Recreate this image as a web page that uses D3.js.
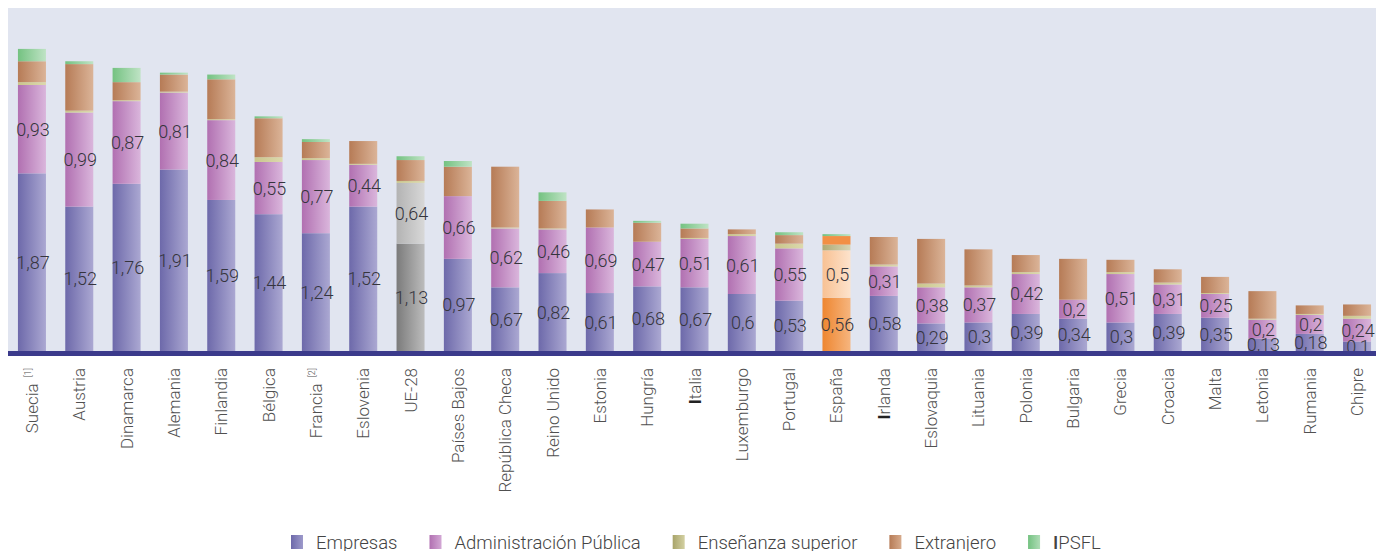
<!DOCTYPE html>
<html>
<head>
<meta charset="utf-8">
<script src="https://cdn.jsdelivr.net/npm/d3@7"></script>
<style>
  body { margin: 0; background: #fff; }
  svg { display: block; font-family: Roboto, "DejaVu Sans", sans-serif; }
</style>
</head>
<body>
<div id="chart"></div>
<script>
// Countries (x axis), in order
const countries = ["Suecia", "Austria", "Dinamarca", "Alemania", "Finlandia", "Bélgica", "Francia",
  "Eslovenia", "UE-28", "Países Bajos", "República Checa", "Reino Unido", "Estonia", "Hungría",
  "Italia", "Luxemburgo", "Portugal", "España", "Irlanda", "Eslovaquia", "Lituania", "Polonia",
  "Bulgaria", "Grecia", "Croacia", "Malta", "Letonia", "Rumania", "Chipre"];
const notes = { "Suecia": "[1]", "Francia": "[2]" };

// Series values (% of GDP)
const empresas   = [1.87, 1.52, 1.76, 1.91, 1.59, 1.44, 1.24, 1.52, 1.13, 0.97, 0.67, 0.82, 0.61, 0.68, 0.67, 0.6, 0.53, 0.56, 0.58, 0.29, 0.3, 0.39, 0.34, 0.3, 0.39, 0.35, 0.13, 0.18, 0.1];
const adminPub   = [0.93, 0.99, 0.87, 0.81, 0.84, 0.55, 0.77, 0.44, 0.64, 0.66, 0.62, 0.46, 0.69, 0.47, 0.51, 0.61, 0.55, 0.5, 0.31, 0.38, 0.37, 0.42, 0.2, 0.51, 0.31, 0.25, 0.2, 0.2, 0.24];
const ensenanza  = [0.03, 0.02, 0.01, 0.01, 0.01, 0.05, 0.02, 0.01, 0.02, 0.0, 0.01, 0.01, 0.0, 0.0, 0.01, 0.02, 0.05, 0.06, 0.02, 0.04, 0.02, 0.02, 0.0, 0.02, 0.02, 0.01, 0.01, 0.01, 0.03];
const extranjero = [0.22, 0.49, 0.19, 0.18, 0.42, 0.41, 0.17, 0.24, 0.22, 0.31, 0.64, 0.29, 0.19, 0.2, 0.1, 0.05, 0.09, 0.09, 0.29, 0.47, 0.38, 0.18, 0.43, 0.13, 0.14, 0.17, 0.29, 0.09, 0.12];
const ipsfl      = [0.13, 0.03, 0.15, 0.02, 0.05, 0.02, 0.03, 0.0, 0.04, 0.06, 0.0, 0.09, 0.0, 0.02, 0.05, 0.0, 0.03, 0.02, 0.0, 0.0, 0.0, 0.0, 0.0, 0.0, 0.0, 0.0, 0.0, 0.0, 0.0];

const seriesKeys = ["empresas", "adminPub", "ensenanza", "extranjero", "ipsfl"];
const seriesNames = ["Empresas", "Administración Pública", "Enseñanza superior", "Extranjero", "IPSFL"];
const seriesData = { empresas, adminPub, ensenanza, extranjero, ipsfl };
const labelled = ["empresas", "adminPub"];

// Gradient colours [left, right]; UE-28 in greys, España in oranges
const palette = {
  empresas:   ["#6d69aa", "#aba8d2"],
  adminPub:   ["#b170b1", "#dab6dc"],
  ensenanza:  ["#c9c58c", "#dcd9ad"],
  extranjero: ["#b67b56", "#dbb498"],
  ipsfl:      ["#74c281", "#bfe3c5"]
};
const specialPalette = {
  "UE-28": { empresas: ["#7b7b7b", "#bcbcbc"], adminPub: ["#b3b3b3", "#d8d8d8"] },
  "España": {
    empresas: ["#ee8630", "#f6b57e"], adminPub: ["#f8c193", "#fde3cc"],
    ensenanza: ["#b0aa74", "#d9d4b4"], extranjero: ["#f28f45", "#f28f45"]
  }
};
const legendColors = {
  empresas: ["#6d69aa", "#9d9acb"], adminPub: ["#b170b1", "#d3a8d5"],
  ensenanza: ["#a8a46a", "#d3d0a2"], extranjero: ["#b67b56", "#d7ab8c"], ipsfl: ["#74c281", "#afdcb6"]
};

const width = 1376, height = 551;
const plot = { left: 8, top: 8, right: 1376, bottom: 351 };

const svg = d3.select("#chart").append("svg")
  .attr("width", width).attr("height", height);

// Gradients
const defs = svg.append("defs");
function gradient(id, [c0, c1]) {
  const g = defs.append("linearGradient").attr("id", id)
    .attr("x1", "0%").attr("x2", "100%").attr("y1", "0%").attr("y2", "0%");
  g.append("stop").attr("offset", "0%").attr("stop-color", c0);
  g.append("stop").attr("offset", "100%").attr("stop-color", c1);
  return `url(#${id})`;
}
const fills = {};
seriesKeys.forEach(k => { fills[k] = gradient("g-" + k, palette[k]); });
const specialFills = {};
Object.entries(specialPalette).forEach(([c, p], i) => {
  specialFills[c] = {};
  Object.entries(p).forEach(([k, cols]) => { specialFills[c][k] = gradient(`s${i}-${k}`, cols); });
});
const legendFills = {};
seriesKeys.forEach(k => { legendFills[k] = gradient("l-" + k, legendColors[k]); });

// Plot background
svg.append("rect")
  .attr("x", plot.left).attr("y", plot.top)
  .attr("width", plot.right - plot.left).attr("height", plot.bottom - plot.top)
  .attr("fill", "#e1e5f0");

// Scales
const x = d3.scaleBand()
  .domain(countries)
  .range([8, 1381])
  .paddingInner(0.408)
  .paddingOuter(0.21);

const y = d3.scaleLinear()
  .domain([0, 3.6])
  .range([plot.bottom, plot.bottom - 3.6 * 95]);

// Stack
const rows = countries.map((c, i) => {
  const r = { country: c };
  seriesKeys.forEach(k => { r[k] = seriesData[k][i]; });
  return r;
});
const stacked = d3.stack().keys(seriesKeys)(rows);

const layers = svg.append("g").attr("class", "bars")
  .selectAll("g")
  .data(stacked)
  .join("g");

layers.selectAll("rect")
  .data(layer => layer.map(d => ({ key: layer.key, d })))
  .join("rect")
  .attr("x", s => x(s.d.data.country))
  .attr("width", x.bandwidth())
  .attr("y", s => y(s.d[1]))
  .attr("height", s => Math.max(0, y(s.d[0]) - y(s.d[1])))
  .attr("fill", s => {
    const sp = specialFills[s.d.data.country];
    return (sp && sp[s.key]) || fills[s.key];
  });

// Value labels for Empresas and Administración Pública
const labelData = [];
stacked.filter(l => labelled.includes(l.key)).forEach(l => {
  l.forEach((d, i) => labelData.push({ key: l.key, d, v: seriesData[l.key][i] }));
});
svg.append("g").attr("class", "labels")
  .selectAll("text")
  .data(labelData)
  .join("text")
  .attr("x", s => x(s.d.data.country) + x.bandwidth() / 2 + 1)
  .attr("y", s => (y(s.d[0]) + y(s.d[1])) / 2)
  .attr("dy", "0.36em")
  .attr("text-anchor", "middle")
  .attr("font-size", "18px")
  .attr("font-weight", 300)
  .attr("fill", "#35353d")
  .text(s => String(s.v).replace(".", ","));

// Baseline
svg.append("rect")
  .attr("x", plot.left).attr("y", plot.bottom)
  .attr("width", plot.right - plot.left).attr("height", 5)
  .attr("fill", "#3b3a8b");

// X axis labels (rotated)
const tickLabels = svg.append("g").attr("class", "x-labels")
  .selectAll("text")
  .data(countries)
  .join("text")
  .attr("transform", c => `translate(${x(c) + x.bandwidth() / 2 + 6},368) rotate(-90)`)
  .attr("text-anchor", "end")
  .attr("font-size", "17px")
  .attr("fill", "#505050")
  .attr("font-weight", 300);

tickLabels.each(function (c) {
  const t = d3.select(this);
  if (c === "Italia" || c === "Irlanda") {
    t.append("tspan").attr("font-weight", 700).attr("fill", "#222").text(c[0]);
    t.append("tspan").text(c.slice(1));
  } else {
    t.append("tspan").text(c);
  }
  if (notes[c]) {
    t.append("tspan").attr("font-size", "9px").attr("dx", 6).attr("dy", -7).text(notes[c]);
  }
});

// Legend
const legend = svg.append("g").attr("class", "legend");
const gap = 32;
let lx = 0;
seriesKeys.forEach((k, i) => {
  const item = legend.append("g").attr("transform", `translate(${lx},0)`);
  item.append("rect").attr("x", 0).attr("y", -14).attr("width", 12).attr("height", 14)
    .attr("fill", legendFills[k]);
  const txt = item.append("text").attr("x", 25).attr("y", 0)
    .attr("font-size", "18.5px").attr("font-weight", 300).attr("fill", "#444");
  if (k === "ipsfl") {
    txt.append("tspan").attr("font-weight", 500).text("I");
    txt.append("tspan").text(seriesNames[i].slice(1));
  } else {
    txt.text(seriesNames[i]);
  }
  lx += 25 + txt.node().getComputedTextLength() + gap;
});
const legendWidth = lx - gap;
legend.attr("transform", `translate(${Math.round(696 - legendWidth / 2)},549)`);
</script>
</body>
</html>
